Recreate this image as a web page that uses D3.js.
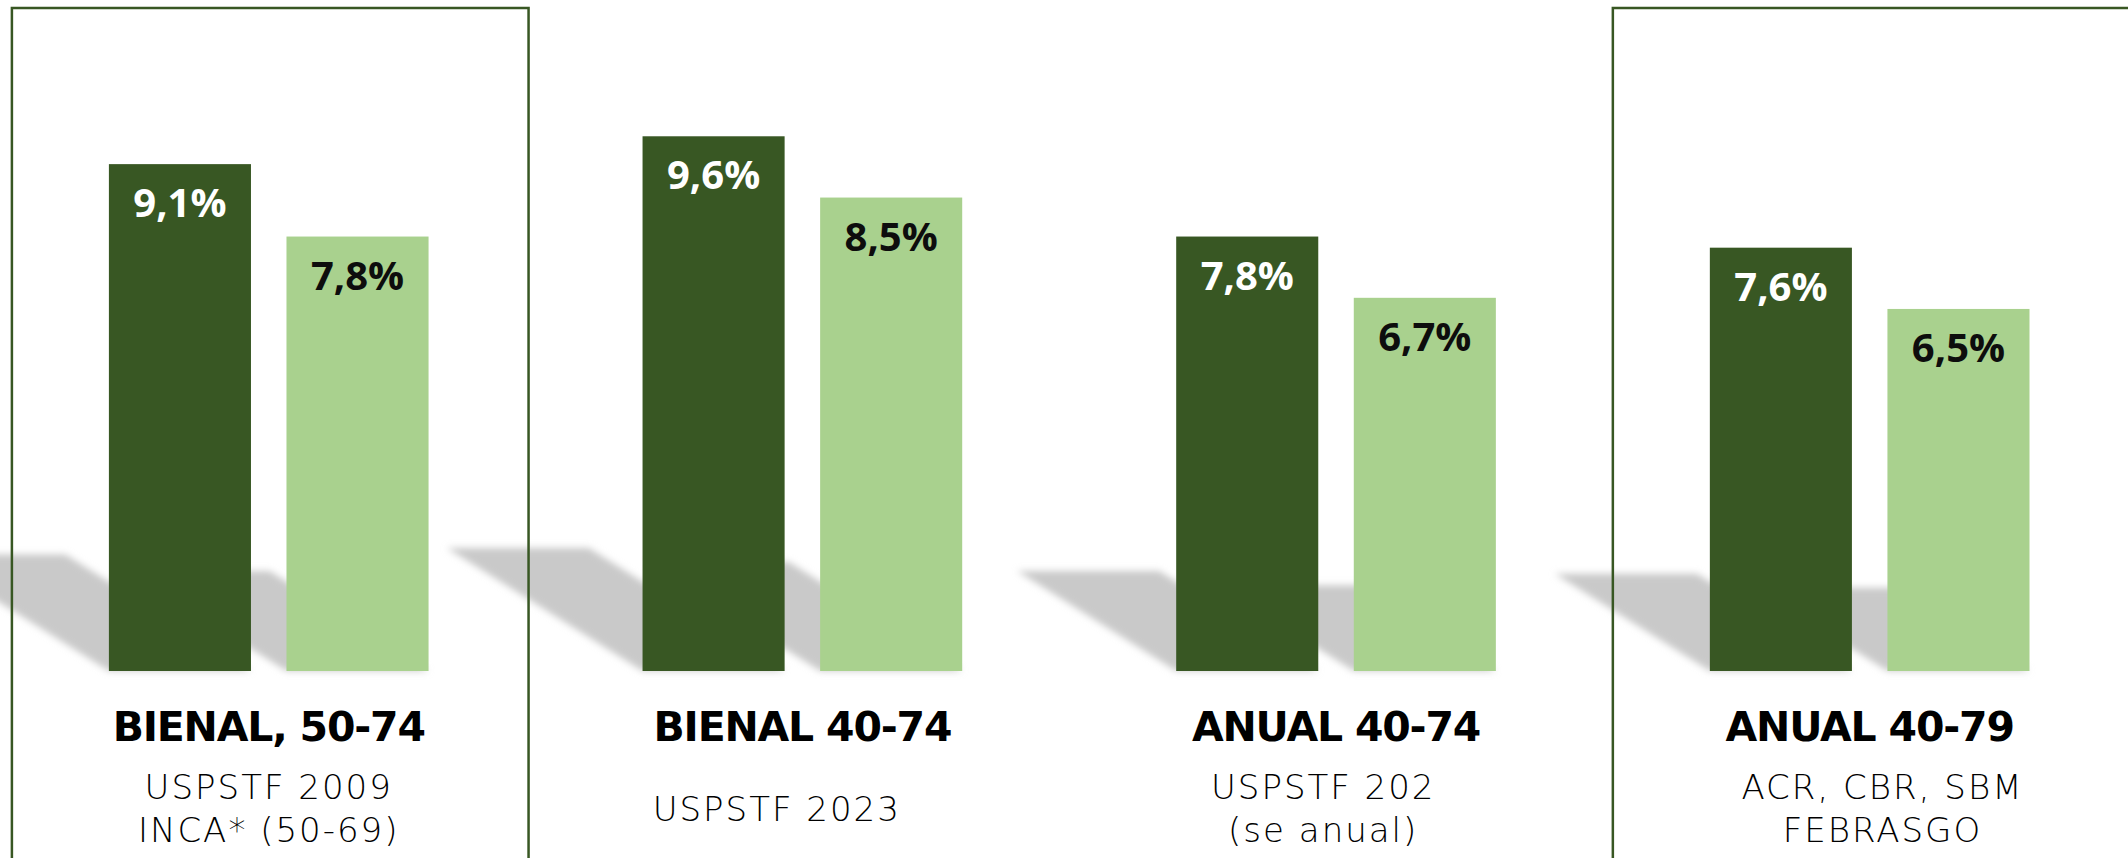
<!DOCTYPE html>
<html>
<head>
<meta charset="utf-8">
<script src="https://cdn.jsdelivr.net/npm/d3@7"></script>
<style>
  html, body { margin: 0; padding: 0; background: #ffffff; }
  svg { display: block; }
</style>
</head>
<body>
<svg id="chart" width="2128" height="858"></svg>
<script>
// Screening strategies and their recommending bodies
const groups = ["BIENAL, 50-74", "BIENAL 40-74", "ANUAL 40-74", "ANUAL 40-79"];
const sources = [
  ["USPSTF 2009", "INCA* (50-69)"],
  ["USPSTF 2023    "],
  ["USPSTF 202  ", "(se anual)  "],
  ["  ACR, CBR, SBM", "  FEBRASGO"]
];
// Two series of percentages per strategy
const seriesKeys = ["a", "b"];
const seriesA = [9.1, 9.6, 7.8, 7.6];
const seriesB = [7.8, 8.5, 6.7, 6.5];
// Strategies drawn inside a frame
const highlighted = ["BIENAL, 50-74", "ANUAL 40-79"];

const W = 2128, H = 858;
const baseY = 671;
const darkGreen = "#385723";
const lightGreen = "#a9d18e";

const svg = d3.select("#chart");

const x0 = d3.scaleBand().domain(groups).range([108.9, 2029.5]).paddingInner(0.401).paddingOuter(0);
const x1 = d3.scaleBand().domain(seriesKeys).range([0, x0.bandwidth()]).paddingInner(0.2);
const y = d3.scaleLinear().domain([0, 10]).range([baseY, baseY - 557]);

const rows = groups.map((g, i) => ({
  group: g,
  sources: sources[i],
  values: [
    { key: "a", value: seriesA[i], group: g },
    { key: "b", value: seriesB[i], group: g }
  ]
}));
const bars = rows.flatMap(r => r.values);

// soft floor shadow cast by each bar
const defs = svg.append("defs");
defs.append("filter").attr("id", "shadowBlur")
  .attr("x", "-20%").attr("y", "-20%").attr("width", "140%").attr("height", "140%")
  .append("feGaussianBlur").attr("stdDeviation", 3.5);

const shadowLean = 0.366, shadowRise = 0.23;
svg.append("g").attr("filter", "url(#shadowBlur)")
  .selectAll("path").data(bars).join("path")
  .attr("fill", "#c9c9c9")
  .attr("d", d => {
    const xl = x0(d.group) + x1(d.key);
    const xr = xl + x1.bandwidth();
    const h = baseY - y(d.value);
    const dx = h * shadowLean, dy = h * shadowRise;
    return `M${xl},${baseY}L${xr},${baseY}L${xr - dx},${baseY - dy}L${xl - dx},${baseY - dy}Z`;
  });

// frames around highlighted strategies
svg.append("g").selectAll("rect").data(highlighted).join("rect")
  .attr("x", g => x0(g) - 97)
  .attr("y", 8)
  .attr("width", g => x0.bandwidth() + 197)
  .attr("height", H + 40)
  .attr("fill", "none")
  .attr("stroke", darkGreen)
  .attr("stroke-width", 2.5);

// bars
svg.append("g").selectAll("rect").data(bars).join("rect")
  .attr("x", d => x0(d.group) + x1(d.key))
  .attr("y", d => y(d.value))
  .attr("width", x1.bandwidth())
  .attr("height", d => baseY - y(d.value))
  .attr("fill", d => d.key === "a" ? darkGreen : lightGreen);

// value labels inside the bars
const fmt = v => v.toFixed(1).replace(".", ",") + "%";
svg.append("g").selectAll("text").data(bars).join("text")
  .attr("x", d => x0(d.group) + x1(d.key) + x1.bandwidth() / 2)
  .attr("y", d => y(d.value) + 53)
  .attr("text-anchor", "middle")
  .attr("font-family", "'Open Sans', 'DejaVu Sans', sans-serif")
  .attr("font-weight", 700)
  .attr("font-size", 40)
  .attr("fill", d => d.key === "a" ? "#ffffff" : "#0d0d0d")
  .text(d => fmt(d.value));

// strategy titles
svg.append("g").selectAll("text").data(rows).join("text")
  .attr("x", d => x0(d.group) + x0.bandwidth() / 2)
  .attr("y", 741)
  .attr("text-anchor", "middle")
  .attr("font-family", "'DejaVu Sans', sans-serif")
  .attr("font-weight", 700)
  .attr("font-size", 41)
  .attr("letter-spacing", -1.2)
  .attr("fill", "#000000")
  .text(d => d.group);

// recommending bodies
const lineGap = 43;
const srcG = svg.append("g").selectAll("text").data(rows).join("text")
  .attr("text-anchor", "middle")
  .attr("font-family", "'DejaVu Sans', sans-serif")
  .attr("font-weight", 200)
  .attr("font-size", 34)
  .attr("letter-spacing", 2)
  .attr("fill", "#000000")
  .style("white-space", "pre");
srcG.selectAll("tspan").data(d => d.sources.map((s, i) => ({ s, i, n: d.sources.length, cx: x0(d.group) + x0.bandwidth() / 2 })))
  .join("tspan")
  .attr("x", d => d.cx)
  .attr("y", d => 820.5 - (d.n - 1) * lineGap / 2 + d.i * lineGap)
  .text(d => d.s);
</script>
</body>
</html>
